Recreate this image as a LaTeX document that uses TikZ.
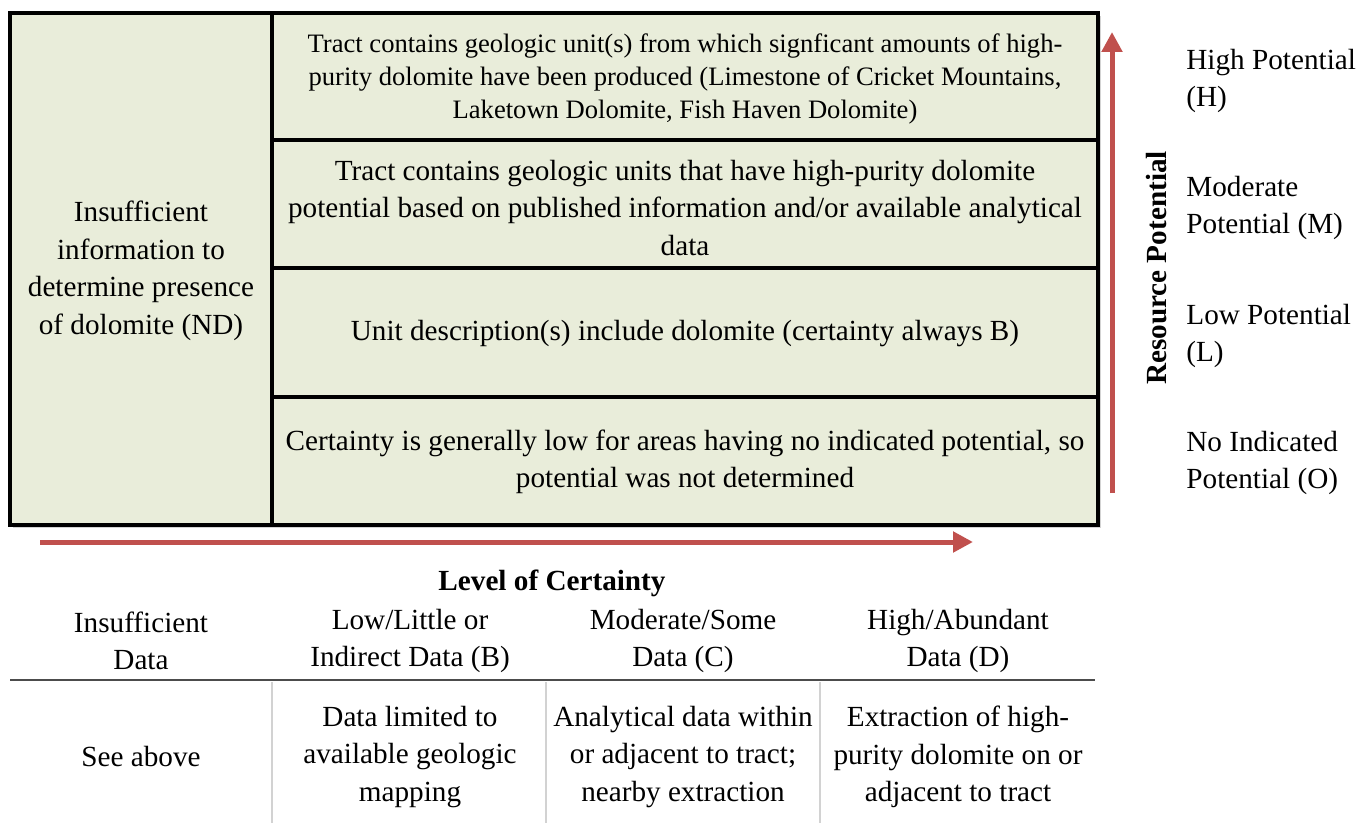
\documentclass[tikz,border=0pt]{standalone}
\usepackage{fontspec}
\setmainfont{Liberation Serif}
\usepackage{xcolor}
\usetikzlibrary{arrows.meta,shadows,positioning}
\definecolor{cellgreen}{HTML}{E9EDDA}
\definecolor{arrowred}{HTML}{C0504D}

\begin{document}
\begin{tikzpicture}
  [x=0.5pt,y=-0.5pt,
   every node/.style={inner sep=0pt,align=center,font=\fontsize{14.6}{18.75}\selectfont},
   small/.style={font=\fontsize{13.3}{16.5}\selectfont},
   lbl/.style={anchor=west,align=left},
   grid/.style={line width=2pt},
   redarrow/.style={arrowred,line width=2.5pt,-{Triangle[length=10pt,width=10pt]}},
   sep/.style={gray!35,line width=1pt}]
  \useasboundingbox (0,0) rectangle (1359,823);

  % matrix of classes
  \fill[cellgreen,drop shadow={shadow xshift=1.5pt,shadow yshift=-1.5pt,opacity=.35}] (10,13) rectangle (1098,525);
  \draw[grid] (10,13) rectangle (1098,525);
  \draw[grid] (272,13) -- (272,525);
  \foreach \y in {140,268,397}
    \draw[grid] (272,\y) -- (1098,\y);

  \node (nd) at (141,271) {Insufficient\\information to\\determine presence\\of dolomite (ND)};
  \node[small] (h) at (685,79) {Tract contains geologic unit(s) from which signficant amounts of high-\\purity dolomite have been produced (Limestone of Cricket Mountains,\\Laketown Dolomite, Fish Haven Dolomite)};
  \node (m) at (685,208) {Tract contains geologic units that have high-purity dolomite\\potential based on published information and/or available analytical\\data};
  \node (l) at (685,334) {Unit description(s) include dolomite (certainty always B)};
  \node (o) at (685,462) {Certainty is generally low for areas having no indicated potential, so\\potential was not determined};

  % axes
  \coordinate (xa) at (40,542);
  \coordinate (xb) at (973,542);
  \coordinate (ya) at (1112,493);
  \coordinate (yb) at (1112,32);
  \draw[redarrow] (xa) -- (xb);
  \draw[redarrow] (ya) -- (yb);

  \node[rotate=90,font=\fontsize{14.6}{18.75}\selectfont\bfseries] (rp) at (1157,268) {Resource Potential};
  \node[lbl] (lh) at (1186,81) {High Potential\\(H)};
  \node[lbl] (lm) at (1186,208) {Moderate\\Potential (M)};
  \node[lbl] (ll) at (1186,336) {Low Potential\\(L)};
  \node[lbl] (lo) at (1186,463) {No Indicated\\Potential (O)};

  % certainty table
  \node[font=\fontsize{14.6}{18.75}\selectfont\bfseries] (loc) at (552,583) {Level of Certainty};
  \node (c0) at (141,641) {Insufficient\\Data};
  \node (c1) at (410,641) {Low/Little or\\Indirect Data (B)};
  \node (c2) at (683,641) {Moderate/Some\\Data (C)};
  \node (c3) at (958,641) {High/Abundant\\Data (D)};

  \draw[gray!60!black,line width=1pt] (10,680) -- (1095,680);
  \foreach \x in {272,546,820}
    \draw[sep] (\x,682) -- (\x,823);

  \node (d0) at (141,757) {See above};
  \node (d1) at (410,757) {Data limited to\\available geologic\\mapping};
  \node (d2) at (683,757) {Analytical data within\\or adjacent to tract;\\nearby extraction};
  \node (d3) at (958,757) {Extraction of high-\\purity dolomite on or\\adjacent to tract};
\end{tikzpicture}
\end{document}
